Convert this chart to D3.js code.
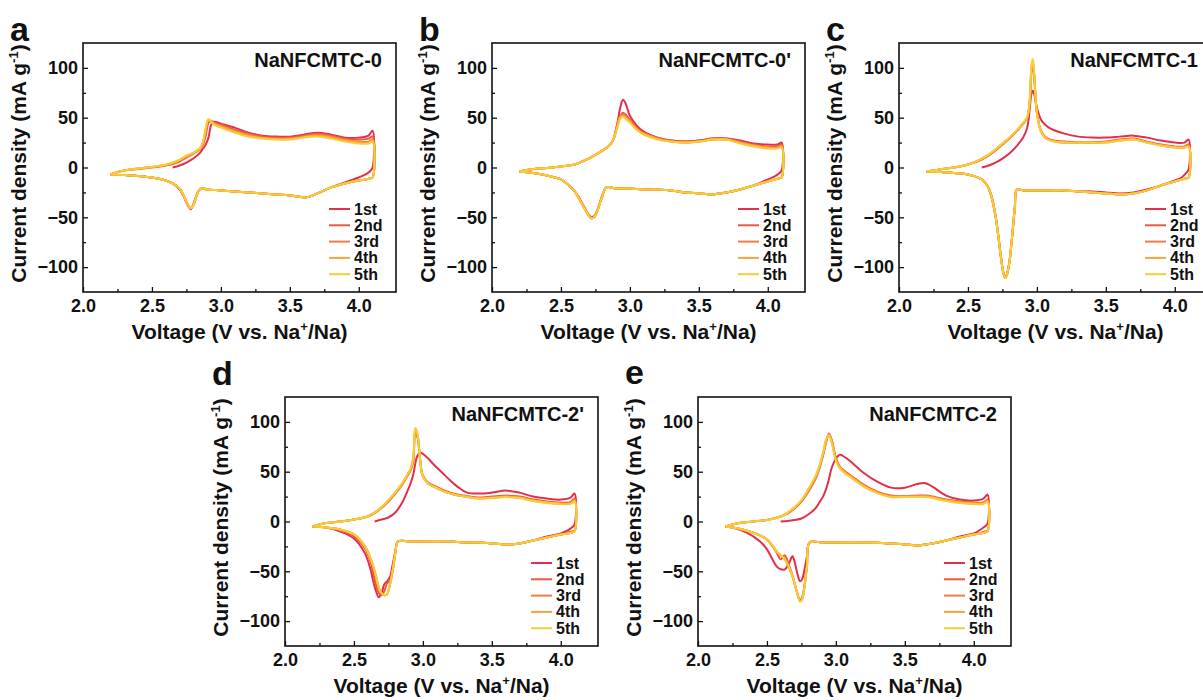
<!DOCTYPE html>
<html>
<head>
<meta charset="utf-8">
<script src="https://cdn.jsdelivr.net/npm/d3@7"></script>
<style>
  body { margin: 0; background: #fff; }
  svg { display: block; font-family: Arial, "Liberation Sans", sans-serif; font-weight: bold; }
</style>
</head>
<body>
<svg id="chart" width="1203" height="700"></svg>
<script>
const cycleNames = ["1st", "2nd", "3rd", "4th", "5th"];
const cycleColors = ["#e2304a", "#ee573f", "#f37d45", "#f6a23a", "#f8cc33"];
const xTicks = [2.0, 2.5, 3.0, 3.5, 4.0];
const xMinorTicks = [2.25, 2.75, 3.25, 3.75];
const yTicks = [-100, -50, 0, 50, 100];
const yMinorTicks = [-75, -25, 25, 75];

// a: NaNFCMTC-0
const aUpV = [2.2, 2.25, 2.3, 2.4, 2.5, 2.6, 2.65, 2.7, 2.75, 2.8, 2.85, 2.87, 2.89, 2.91, 2.93, 2.95, 3.0, 3.1, 3.2, 3.3, 3.4, 3.5, 3.6, 3.7, 3.8, 3.9, 4.0, 4.07, 4.1];
const aUp1 = [null, null, null, null, null, null, 0, 2, 5, 9, 15, 19, 23, 30, 43, 46, 44, 40, 35, 32, 31, 31, 33, 35, 33, 30, 30, 32, 37];
const aUp2 = [-7, -4.5, -3, -1.5, 0, 2, 3.5, 6, 10, 14, 19, 23, 32, 45, 47, 45, 43, 38, 34, 31, 30, 30, 32, 34, 32, 29, 28, 29, 31];
const aUp3 = [-7, -4.5, -3, -1, 0.5, 2.5, 4, 7, 11, 14, 19, 24, 36, 47, 46, 44, 42, 37, 33, 30, 29, 29, 31, 33, 31, 28, 26, 26, 28];
const aUp4 = [-7, -4.5, -3, -1, 0.5, 2.5, 4.5, 7.5, 11.5, 14.5, 19, 25, 38, 48, 46, 44, 41, 36, 32, 29.5, 28.5, 28.5, 30.5, 32, 30, 27, 25, 25, 27];
const aUp5 = [-7, -4.5, -3, -1, 0.5, 3, 5, 8, 12, 15, 20, 26, 40, 48.5, 46, 43, 40, 35, 31, 29, 28, 28, 30, 31, 29, 26, 24, 24, 26];
const aDownV = [4.1, 4.08, 4.05, 4.0, 3.9, 3.8, 3.7, 3.62, 3.5, 3.4, 3.3, 3.2, 3.1, 3.0, 2.9, 2.86, 2.84, 2.82, 2.8, 2.78, 2.76, 2.73, 2.7, 2.65, 2.6, 2.5, 2.4, 2.3, 2.2];
const aDown1 = [0, -4, -7, -10, -15, -20, -26, -30, -28, -27, -26, -25, -24, -23, -22, -21, -23, -29, -37, -42, -38, -29, -22, -16, -13, -10, -8.5, -7.5, -7];
const aDownN = [-10, -11, -12, -13, -16, -20, -26, -30, -28, -27, -26, -25, -24, -23, -22, -21, -23, -30, -38, -41, -37, -28, -21, -16, -13, -10, -8.5, -7.5, -7];

// b: NaNFCMTC-0'
const bUpV = [2.2, 2.25, 2.3, 2.4, 2.5, 2.6, 2.7, 2.8, 2.85, 2.88, 2.91, 2.93, 2.95, 2.97, 3.0, 3.05, 3.1, 3.2, 3.3, 3.4, 3.5, 3.6, 3.7, 3.8, 3.9, 4.0, 4.07, 4.1];
const bUp1 = [null, null, null, null, null, 3, 9, 17, 22, 28, 45, 60, 68, 64, 52, 42, 36, 30, 27, 26, 27, 29, 29, 27, 24, 23, 23, 25];
const bUp2 = [-4, -2.5, -1.5, -0.5, 1, 3, 9, 17, 22, 28, 44, 52, 55, 53, 48, 40, 35, 30, 27, 26, 27, 29, 29, 26, 23, 21, 21, 23];
const bUp3 = [-4, -2.5, -1.5, -0.5, 1, 3, 9, 17, 22, 28, 43, 51, 53, 51, 47, 39, 34, 29, 26, 25, 26, 28, 28, 25, 22, 20, 20, 22];
const bUp4 = [-4, -2.5, -1.5, -0.5, 1, 3, 9, 17, 22, 28, 42, 50, 52, 50, 46, 38, 34, 29, 26, 25, 26, 28, 28, 25, 22, 20, 19.5, 21];
const bUp5 = [-4, -2.5, -1.5, -0.5, 1, 3, 9, 17, 22, 28, 40, 49, 51, 49, 45, 38, 33, 28, 26, 25, 26, 28, 28, 24, 21, 19, 19, 20];
const bDownV = [4.1, 4.08, 4.05, 4.0, 3.9, 3.8, 3.7, 3.6, 3.5, 3.4, 3.3, 3.2, 3.1, 3.0, 2.9, 2.83, 2.8, 2.78, 2.76, 2.74, 2.72, 2.7, 2.67, 2.63, 2.6, 2.55, 2.5, 2.4, 2.3, 2.2];
const bDown1 = [-3, -6, -9, -12, -18, -22, -25, -27, -26, -25, -23, -22, -22, -21, -21, -20, -28, -36, -44, -49, -50, -47, -40, -30, -24, -17, -12, -8, -5.5, -4];
const bDownN = [-10, -11, -12, -14, -18, -22, -25, -27, -26, -25, -23, -22, -22, -21, -21, -20, -29, -37, -45, -50, -51, -48, -41, -31, -24, -17, -12, -8, -5.5, -4];

// c: NaNFCMTC-1
const cUpV = [2.2, 2.3, 2.4, 2.5, 2.6, 2.65, 2.7, 2.75, 2.8, 2.85, 2.9, 2.93, 2.95, 2.96, 2.97, 2.98, 3.0, 3.03, 3.06, 3.1, 3.2, 3.3, 3.4, 3.5, 3.6, 3.7, 3.8, 3.9, 4.0, 4.07, 4.1];
const cUp1 = [null, null, null, null, 0, 2, 5, 9, 14, 21, 30, 40, 62, 74, 77, 74, 60, 48, 43, 39, 34, 31, 30, 30, 31, 32, 30, 27, 25, 25, 28];
const cUp2 = [-4, -2, 0, 3, 8, 12, 17, 23, 29, 36, 44, 50, 68, 95, 104, 92, 55, 37, 31, 28, 26, 25.5, 25.5, 26, 28, 29, 26, 23, 21, 21, 23];
const cUp3 = [-4, -2, 0, 3, 8.5, 12.5, 17.5, 23.5, 29.5, 36, 44, 50, 70, 98, 106, 94, 55, 36, 30, 27, 25, 25, 25, 25.5, 27.5, 28.5, 25.5, 22.5, 20.5, 20.5, 22];
const cUp4 = [-4, -2, 0, 3, 9, 13, 18, 24, 30, 36.5, 44.5, 50, 71, 100, 107, 95, 55, 36, 30, 27, 25, 25, 25, 25, 27, 28, 25, 22, 20, 20, 21.5];
const cUp5 = [-4, -2, 0, 3, 9, 13, 18, 24, 30, 37, 45, 51, 72, 102, 109, 96, 55, 36, 30, 27, 25, 25, 25, 25, 27, 28, 25, 22, 20, 20, 21];
const cDownV = [4.1, 4.08, 4.05, 4.0, 3.9, 3.8, 3.7, 3.6, 3.5, 3.4, 3.3, 3.2, 3.1, 3.0, 2.9, 2.855, 2.84, 2.82, 2.8, 2.78, 2.77, 2.76, 2.74, 2.72, 2.7, 2.67, 2.64, 2.6, 2.5, 2.4, 2.3, 2.2];
const cDown1 = [-2, -6, -10, -13, -18, -22, -25, -26, -25, -24, -24, -23, -23, -23, -23, -22, -40, -70, -95, -108, -110, -107, -90, -68, -48, -28, -18, -12, -7, -5.5, -4.5, -4];
const cDownN = [-10, -11, -12, -14, -18, -23, -26, -27, -26, -25, -24, -23, -23, -23, -23, -22, -40, -70, -96, -109, -111, -108, -91, -69, -49, -29, -18, -12, -7, -5.5, -4.5, -4];

// d: NaNFCMTC-2'
const dUpV = [2.2, 2.25, 2.3, 2.4, 2.5, 2.6, 2.65, 2.7, 2.75, 2.8, 2.85, 2.88, 2.91, 2.93, 2.945, 2.96, 2.98, 3.0, 3.04, 3.08, 3.14, 3.2, 3.26, 3.32, 3.4, 3.5, 3.6, 3.7, 3.8, 3.9, 4.0, 4.07, 4.1];
const dUp1 = [null, null, null, null, null, null, 0, 2, 4, 9, 19, 28, 38, 47, 58, 66, 69, 68, 63, 57, 49, 41, 34, 29, 28, 29, 31, 29, 25, 23, 22, 24, 28];
const dUp2 = [-5, -3, -1.5, 0, 2, 5, 8.5, 13.5, 20, 28, 37, 44, 51, 60, 88, 85, 62, 46, 39, 36, 32, 29, 27, 25.5, 24, 25, 26, 25, 22, 20, 19, 19.5, 23];
const dUp3 = [-5, -3, -1.5, 0, 2, 5, 9, 14, 21, 29, 38, 45, 52, 62, 91, 87, 62, 45, 38, 35, 31, 28, 26, 25, 23.5, 24, 25, 24, 21, 19, 18, 18.5, 22];
const dUp4 = [-5, -3, -1.5, 0, 2, 5, 9, 14, 21, 29, 38, 45, 52, 63, 93, 88, 62, 45, 38, 35, 31, 28, 26, 25, 23, 24, 25, 24, 21, 19, 18, 18, 21];
const dUp5 = [-5, -3, -1.5, 0, 2, 5, 9, 14.5, 21.5, 29.5, 38.5, 45.5, 53, 64, 94, 89, 62, 45, 38, 35, 31, 28, 26, 24.5, 23, 23.5, 24.5, 23.5, 20.5, 18.5, 17.5, 17.5, 20];
const dDownV = [4.1, 4.08, 4.05, 4.0, 3.9, 3.8, 3.7, 3.6, 3.5, 3.4, 3.3, 3.2, 3.0, 2.9, 2.82, 2.8, 2.78, 2.76, 2.74, 2.72, 2.7, 2.68, 2.66, 2.64, 2.62, 2.58, 2.5, 2.4, 2.3, 2.2];
const dDown1 = [-3, -6, -9, -12, -15, -19, -22, -23, -22, -21, -21, -20, -20, -20, -20, -30, -44, -56, -60, -63, -72, -76, -70, -60, -48, -32, -17, -10, -6, -5];
const dDown2 = [-9, -10, -11, -13, -16, -19, -22, -23, -22, -21, -21, -20, -20, -20, -20, -32, -50, -60, -62, -70, -74, -72, -64, -52, -40, -27, -15, -9, -6, -5];
const dDownN = [-10, -11, -12, -13, -16, -19, -22, -23, -22, -21, -21, -20, -20, -20, -20, -32, -50, -64, -73, -74, -72, -66, -55, -45, -37, -25, -13, -8, -6, -5];

// e: NaNFCMTC-2
const eUpV = [2.2, 2.25, 2.3, 2.4, 2.5, 2.6, 2.65, 2.7, 2.75, 2.8, 2.85, 2.88, 2.91, 2.93, 2.95, 2.97, 3.0, 3.03, 3.06, 3.1, 3.15, 3.2, 3.3, 3.4, 3.5, 3.6, 3.65, 3.7, 3.8, 3.9, 4.0, 4.07, 4.1];
const eUp1 = [null, null, null, null, null, 0, 0.5, 1.5, 3, 7, 13, 19, 26, 33, 43, 54, 63, 67, 65, 61, 55, 49, 40, 34, 34, 38, 38.5, 35, 26, 22, 21, 23, 27];
const eUp2 = [-5, -3, -1.5, 0, 1.5, 5, 8, 13, 20, 30, 42, 53, 68, 80, 88, 82, 64, 55, 51, 47, 42, 37, 30, 26, 25.5, 26, 26, 25, 22, 20, 19, 19, 22];
const eUp3 = [-5, -3, -1.5, 0, 1.5, 5, 8.5, 13.5, 20.5, 31, 43, 54, 69, 81, 87.5, 81, 63, 54, 50, 46, 41, 36, 29.5, 25.5, 25, 25.5, 25.5, 24.5, 21.5, 19.5, 18.5, 18.5, 21];
const eUp4 = [-5, -3, -1.5, 0, 1.5, 5, 8.5, 14, 21, 32, 44, 55, 70, 82, 87, 80, 62, 54, 50, 46, 41, 36, 29, 25, 25, 25, 25, 24, 21, 19, 18, 18, 20.5];
const eUp5 = [-5, -3, -1.5, 0, 1.5, 5, 9, 14.5, 21.5, 32.5, 45, 56, 71, 83, 86, 79, 61, 53, 49, 45, 40, 35, 28.5, 24.5, 24.5, 24.5, 24.5, 23.5, 20.5, 18.5, 17.5, 17.5, 20];
const eDownV = [4.1, 4.08, 4.05, 4.0, 3.9, 3.8, 3.7, 3.6, 3.5, 3.4, 3.2, 3.0, 2.9, 2.81, 2.79, 2.77, 2.755, 2.74, 2.72, 2.7, 2.685, 2.66, 2.63, 2.6, 2.57, 2.54, 2.5, 2.45, 2.35, 2.25, 2.2];
const eDown1 = [-2, -5, -8, -12, -15, -19, -22, -24, -23, -22, -21, -21, -21, -21, -35, -50, -58, -60, -52, -40, -35, -42, -48, -48, -45, -38, -28, -20, -11, -6, -5];
const eDown2 = [-9, -10, -11.5, -13, -16, -19, -22, -24, -23, -22, -21, -21, -21, -21, -44, -66, -76, -79, -72, -62, -54, -44, -34, -38, -31, -25, -18, -14, -9, -6, -5];
const eDownN = [-10, -11, -12, -13, -16, -19, -22, -24, -23, -22, -21, -21, -21, -21, -45, -68, -78, -80, -72, -62, -55, -46, -38, -34, -30, -24, -18, -14, -9, -6, -5];

const panels = [
  { letter: "a", name: "NaNFCMTC-0", upV: aUpV, up: [aUp1, aUp2, aUp3, aUp4, aUp5], downV: aDownV, down: [aDown1, aDownN, aDownN, aDownN, aDownN] },
  { letter: "b", name: "NaNFCMTC-0'", upV: bUpV, up: [bUp1, bUp2, bUp3, bUp4, bUp5], downV: bDownV, down: [bDown1, bDownN, bDownN, bDownN, bDownN] },
  { letter: "c", name: "NaNFCMTC-1", upV: cUpV, up: [cUp1, cUp2, cUp3, cUp4, cUp5], downV: cDownV, down: [cDown1, cDownN, cDownN, cDownN, cDownN] },
  { letter: "d", name: "NaNFCMTC-2'", upV: dUpV, up: [dUp1, dUp2, dUp3, dUp4, dUp5], downV: dDownV, down: [dDown1, dDown2, dDownN, dDownN, dDownN] },
  { letter: "e", name: "NaNFCMTC-2", upV: eUpV, up: [eUp1, eUp2, eUp3, eUp4, eUp5], downV: eDownV, down: [eDown1, eDown2, eDownN, eDownN, eDownN] },
];

// where each panel's frame sits on the page
const boxes = [
  { left: 83, top: 43, letterY: 41 },
  { left: 492, top: 43, letterY: 41 },
  { left: 899, top: 43, letterY: 41 },
  { left: 285, top: 397, letterY: 385 },
  { left: 698, top: 397, letterY: 384 },
];
const plotW = 313, plotH = 249;

const svg = d3.select("#chart");

panels.forEach((p, k) => {
  const { left, top, letterY } = boxes[k];
  const x = d3.scaleLinear().domain([2.0, 4.27]).range([left, left + plotW]);
  const y = d3.scaleLinear().domain([-125, 125]).range([top + plotH, top]);
  const g = svg.append("g");

  // curves, 1st drawn first so 5th ends on top
  const line = d3.line()
    .x((d) => x(d[0]))
    .y((d) => y(d[1]))
    .curve(d3.curveCatmullRom.alpha(0.5));

  p.up.forEach((upI, c) => {
    const pts = p.upV.map((v, i) => [v, upI[i]]).filter((d) => d[1] != null)
      .concat(p.downV.map((v, i) => [v, p.down[c][i]]));
    g.append("path")
      .attr("d", line(pts))
      .attr("fill", "none")
      .attr("stroke", cycleColors[c])
      .attr("stroke-width", 2)
      .attr("stroke-linejoin", "round");
  });

  // axes, ticks pointing inwards
  const xAxis = g.append("g").attr("transform", `translate(0,${top + plotH})`)
    .call(d3.axisBottom(x).tickValues(xTicks).tickFormat(d3.format(".1f")).tickSize(-5).tickPadding(7));
  g.append("g").attr("transform", `translate(0,${top + plotH})`)
    .call(d3.axisBottom(x).tickValues(xMinorTicks).tickFormat("").tickSize(-3));
  const yAxis = g.append("g").attr("transform", `translate(${left},0)`)
    .call(d3.axisLeft(y).tickValues(yTicks).tickSize(-5).tickPadding(5));
  g.append("g").attr("transform", `translate(${left},0)`)
    .call(d3.axisLeft(y).tickValues(yMinorTicks).tickFormat("").tickSize(-3));
  g.selectAll(".domain").remove();
  g.selectAll(".tick line").attr("stroke", "#111").attr("stroke-width", 1.3);
  [xAxis, yAxis].forEach((a) =>
    a.selectAll("text").attr("font-size", 18).attr("font-weight", "bold")
      .attr("font-family", "Arial, 'Liberation Sans', sans-serif").attr("fill", "#111"));

  g.append("rect")
    .attr("x", left).attr("y", top)
    .attr("width", plotW).attr("height", plotH)
    .attr("fill", "none").attr("stroke", "#111").attr("stroke-width", 1.6);

  // axis titles
  const xt = g.append("text")
    .attr("x", left + plotW / 2).attr("y", top + plotH + 47)
    .attr("text-anchor", "middle").attr("font-size", 21).attr("fill", "#111");
  xt.append("tspan").text("Voltage (V vs. Na");
  xt.append("tspan").text("+").attr("font-size", 13).attr("dy", -8);
  xt.append("tspan").text("/Na)").attr("dy", 8);

  const yt = g.append("text")
    .attr("transform", `translate(${left - 57},${top + plotH / 2 - 4}) rotate(-90)`)
    .attr("text-anchor", "middle").attr("font-size", 21).attr("fill", "#111");
  yt.append("tspan").text("Current density (mA g");
  yt.append("tspan").text("-1").attr("font-size", 13).attr("dy", -8);
  yt.append("tspan").text(")").attr("dy", 8);

  // panel letter and sample name
  g.append("text").attr("x", left - 73).attr("y", letterY)
    .attr("font-size", 34).attr("fill", "#111").text(p.letter);
  g.append("text").attr("x", left + plotW - 14).attr("y", top + 24)
    .attr("text-anchor", "end").attr("font-size", 20).attr("fill", "#111").text(p.name);

  // legend
  const leg = g.append("g");
  cycleNames.forEach((name, c) => {
    const ly = top + 166 + c * 16.3;
    leg.append("line")
      .attr("x1", left + plotW - 67).attr("x2", left + plotW - 46)
      .attr("y1", ly).attr("y2", ly)
      .attr("stroke", cycleColors[c]).attr("stroke-width", 2);
    leg.append("text")
      .attr("x", left + plotW - 42).attr("y", ly)
      .attr("dominant-baseline", "central")
      .attr("font-size", 16).attr("fill", "#111").text(name);
  });
});
</script>
</body>
</html>
